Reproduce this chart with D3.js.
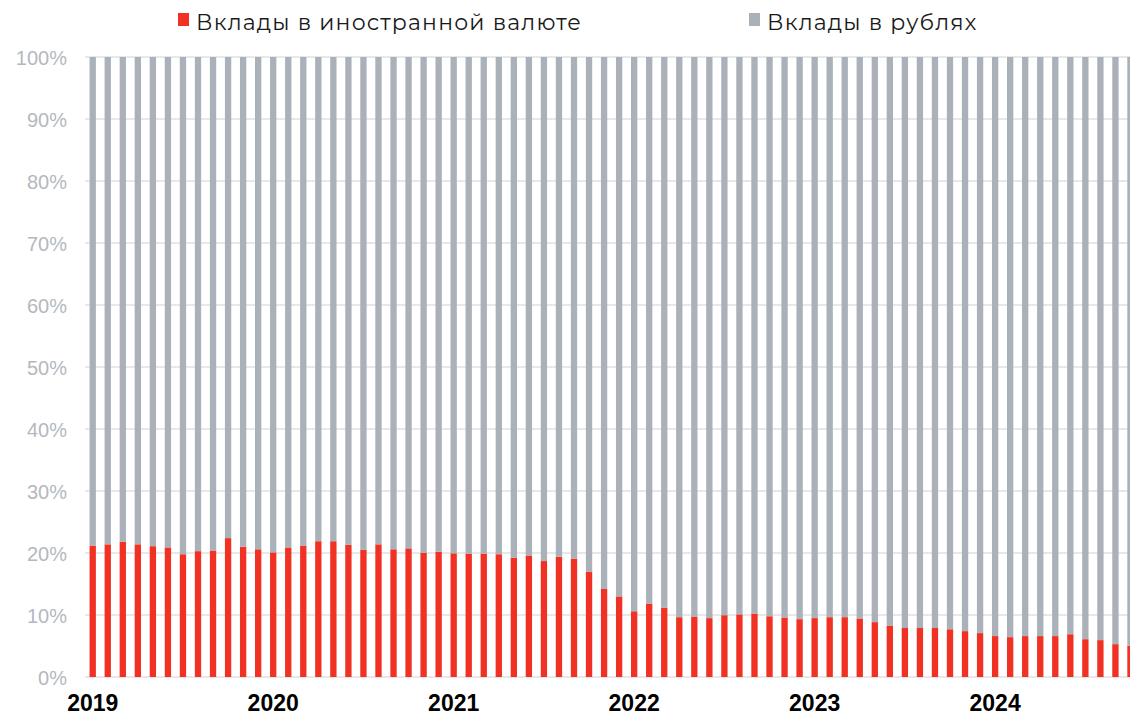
<!DOCTYPE html>
<html>
<head>
<meta charset="utf-8">
<script src="https://cdn.jsdelivr.net/npm/d3@7"></script>
<style>
  html, body { margin: 0; padding: 0; background: #fff; overflow: hidden; }
  .ytick text { font-family: "Liberation Sans", Arial, sans-serif; font-size: 20px; fill: #b4b8be; }
  .xtick text { font-family: "Liberation Sans", Arial, sans-serif; font-size: 23px; font-weight: bold; fill: #000; }
  .legend text { font-family: "Montserrat", "Noto Sans", sans-serif; font-size: 22px; letter-spacing: 1.2px; fill: #1a1a1a; }
</style>
</head>
<body>
<div id="chart"></div>
<script>
// month labels, Jan 2019 .. Oct 2024
var years = ['2019', '2020', '2021', '2022', '2023', '2024'];
var months = [];
years.forEach(function(y) {
  for (var m = 1; m <= 12; m++) {
    if (y === '2024' && m > 10) break;
    months.push(y + '-' + (m < 10 ? '0' + m : m));
  }
});

// share of deposits in foreign currency, %
var foreign = [
  21.2, 21.4, 21.8, 21.4, 21.1, 20.9, 19.8, 20.3, 20.4, 22.4, 21.0, 20.6,
  20.1, 20.9, 21.2, 21.9, 21.9, 21.3, 20.5, 21.4, 20.6, 20.75, 20.0, 20.2,
  19.95, 19.9, 19.9, 19.8, 19.25, 19.6, 18.7, 19.4, 19.1, 17.0, 14.2, 13.0,
  10.6, 11.85, 11.15, 9.65, 9.76, 9.5, 9.97, 10.1, 10.24, 9.8, 9.6, 9.33,
  9.5, 9.65, 9.65, 9.44, 8.85, 8.3, 7.9, 7.9, 7.9, 7.7, 7.4, 7.08,
  6.6, 6.43, 6.6, 6.6, 6.6, 6.9, 6.1, 5.95, 5.3, 5.04
];
// share of deposits in rubles, %
var rubles = foreign.map(function(v) { return 100 - v; });

var yTicks = [0, 10, 20, 30, 40, 50, 60, 70, 80, 90, 100];
var seriesNames = ['Вклады в иностранной валюте', 'Вклады в рублях'];
var seriesColors = ['#f03124', '#abb1b9'];

var width = 1130, height = 716;

var svg = d3.select('#chart').append('svg')
    .attr('width', width)
    .attr('height', height);

var x = d3.scaleBand()
    .domain(months)
    .range([85.2, 1138])
    .paddingInner(0.58)
    .paddingOuter(0.29);

var y = d3.scaleLinear()
    .domain([0, 100])
    .range([677, 57]);

// grid
svg.append('g')
    .selectAll('line')
    .data(yTicks)
    .enter().append('line')
    .attr('x1', 85)
    .attr('x2', width)
    .attr('y1', function(d) { return y(d); })
    .attr('y2', function(d) { return y(d); })
    .attr('stroke', '#e8e8e8')
    .attr('stroke-width', 2);

// y axis labels
var yAxis = d3.axisLeft(y)
    .tickValues(yTicks)
    .tickFormat(function(d) { return d + '%'; })
    .tickSize(0)
    .tickPadding(0);

svg.append('g')
    .attr('class', 'ytick')
    .attr('transform', 'translate(67,1)')
    .call(yAxis)
    .call(function(g) { g.select('.domain').remove(); });

// stacked bars
var rows = months.map(function(m, i) {
  return { month: m, foreign: foreign[i], rubles: rubles[i] };
});
var stack = d3.stack().keys(['foreign', 'rubles'])(rows);

svg.append('g')
    .selectAll('g')
    .data(stack)
    .enter().append('g')
    .attr('fill', function(d, i) { return seriesColors[i]; })
    .selectAll('rect')
    .data(function(d) { return d; })
    .enter().append('rect')
    .attr('x', function(d) { return x(d.data.month); })
    .attr('width', x.bandwidth())
    .attr('y', function(d) { return y(d[1]); })
    .attr('height', function(d) { return y(d[0]) - y(d[1]); });

// x axis - years under January bars
var xAxis = d3.axisBottom(x)
    .tickValues(months.filter(function(m) { return m.slice(5) === '01'; }))
    .tickFormat(function(m) { return m.slice(0, 4); })
    .tickSize(0)
    .tickPadding(0);

svg.append('g')
    .attr('class', 'xtick')
    .attr('transform', 'translate(0,695)')
    .call(xAxis)
    .call(function(g) { g.select('.domain').remove(); });

// legend
var legendX = [178, 749];
var legend = svg.append('g')
    .attr('class', 'legend')
    .selectAll('g')
    .data(seriesNames)
    .enter().append('g')
    .attr('transform', function(d, i) { return 'translate(' + legendX[i] + ',0)'; });

legend.append('rect')
    .attr('x', 0)
    .attr('y', 13)
    .attr('width', 11)
    .attr('height', 13)
    .attr('fill', function(d, i) { return seriesColors[i]; });

legend.append('text')
    .attr('x', 18)
    .attr('y', 30)
    .text(function(d) { return d; });
</script>
</body>
</html>
